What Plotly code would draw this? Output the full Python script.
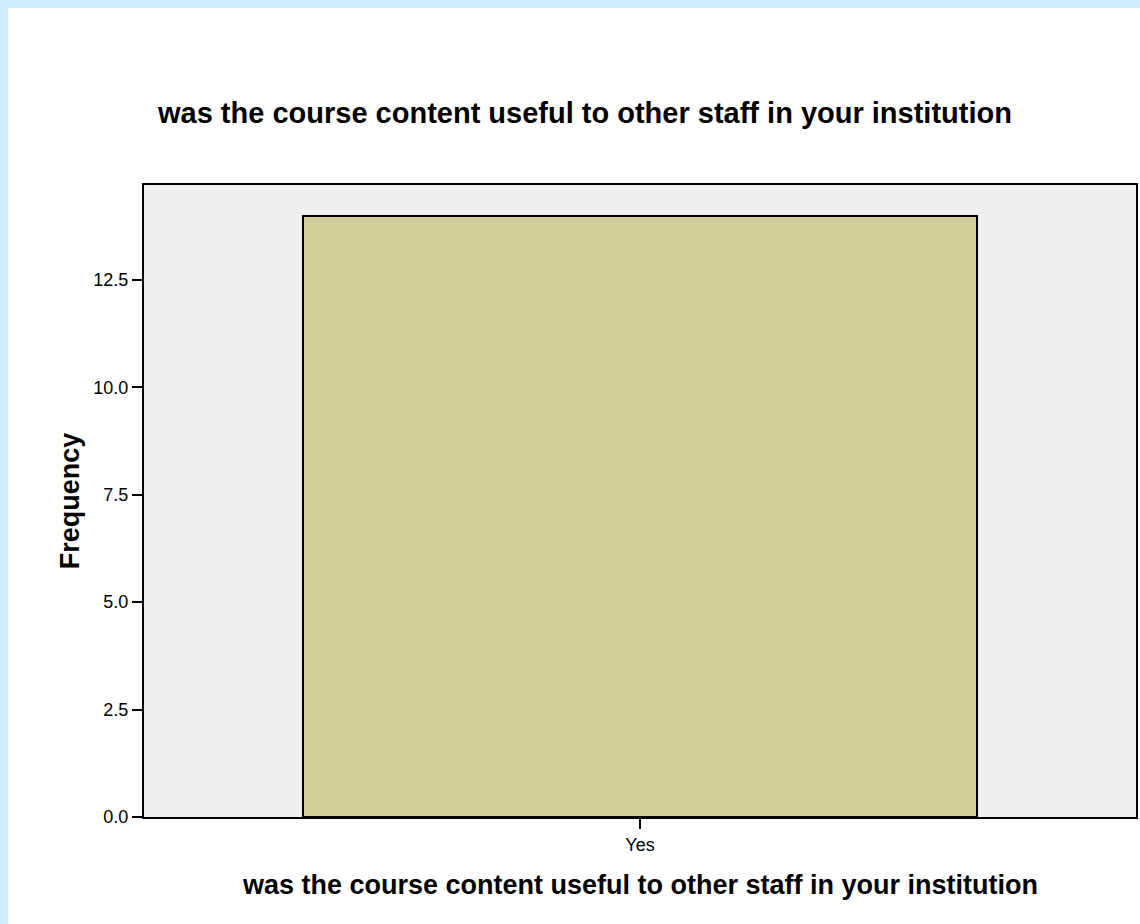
import plotly.graph_objects as go

categories = ["Yes"]
frequency = [14]
y_ticks = [0, 2.5, 5, 7.5, 10, 12.5]
title_text = "was the course content useful to other staff in your institution"
x_title = "was the course content useful to other staff in your institution"
y_title = "Frequency"

fig = go.Figure()
fig.add_trace(go.Bar(
    x=categories, y=frequency, width=0.68,
    marker=dict(color="#D3CE98", line=dict(color="black", width=2)),
    showlegend=False,
))

fig.update_layout(
    width=1140, height=924,
    margin=dict(l=144, r=2, t=185, b=107),
    paper_bgcolor="white",
    plot_bgcolor="#EFEFEF",
    font=dict(family="Liberation Sans, Arial", color="black"),
    bargap=0,
)
fig.update_xaxes(
    range=[-0.5, 0.5], showline=True, linecolor="black", linewidth=2, mirror=True,
    ticks="outside", ticklen=10, tickcolor="black", tickwidth=2,
    tickfont=dict(size=18), showgrid=False, zeroline=False,
)
fig.update_yaxes(
    range=[0, 14.71], showline=True, linecolor="black", linewidth=2, mirror=True,
    ticks="outside", ticklen=10, tickcolor="black", tickwidth=2,
    tickvals=y_ticks, ticktext=[f"{v:.1f}" for v in y_ticks],
    tickfont=dict(size=18), showgrid=False, zeroline=False,
)

fig.add_annotation(text=f"<b>{title_text}</b>", xref="paper", yref="paper",
                   x=0.4437, y=1.114, showarrow=False, font=dict(size=29),
                   xanchor="center", yanchor="middle")
fig.add_annotation(text=f"<b>{x_title}</b>", xref="paper", yref="paper",
                   x=0.5, y=-0.1076, showarrow=False, font=dict(size=27),
                   xanchor="center", yanchor="middle")
fig.add_annotation(text=f"<b>{y_title}</b>", xref="paper", yref="paper",
                   x=-0.0744, y=0.5, showarrow=False, font=dict(size=27),
                   textangle=-90, xanchor="center", yanchor="middle")

# light blue frame strips (top and left)
fig.add_shape(type="rect", xref="paper", yref="paper", x0=-0.2, x1=1.1,
              y0=1.2800, y1=1.4, fillcolor="#CCEBFF", line=dict(width=0), layer="above")
fig.add_shape(type="rect", xref="paper", yref="paper", x0=-0.2, x1=-0.1368,
              y0=-0.3, y1=1.4, fillcolor="#CCEBFF", line=dict(width=0), layer="above")

fig.write_html("out.html", config={"displayModeBar": False},
               post_script="document.body.style.margin='0';document.body.style.overflow='hidden';")
